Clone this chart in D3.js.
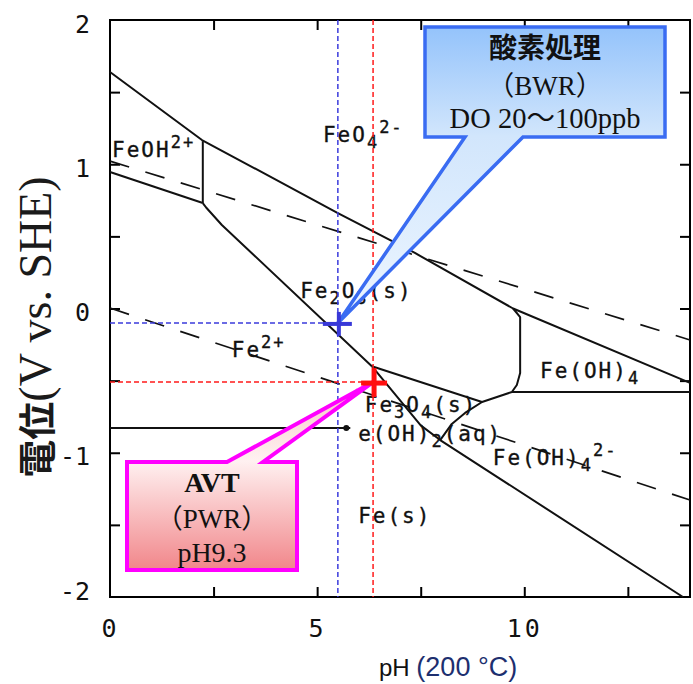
<!DOCTYPE html>
<meta charset='utf-8'>
<style>
  body { margin: 0; background: #fff; }
  .tick line { stroke: #000; stroke-width: 2; }
  .lbl text { font-family: 'DejaVu Sans Mono', monospace; font-size: 25px; fill: #111; }
</style>
<body>
<svg id="chart" width="693" height="684"></svg>
<script src="https://cdn.jsdelivr.net/npm/d3@7"></script>
<script>

// axis ticks and labels
var phLabels = [0, 5, 10];
var eLabels = [2, 1, 0, -1, -2];
var phTicks = [2.5, 5, 7.5, 10, 12.5];
var eTicks = [-1.5, -1, -0.5, 0, 0.5, 1, 1.5];

// solid phase boundaries, [pH, E(V)]
var lineFeO4 = [[0, 1.64], [2.22, 1.168], [5.5, 0.662], [7.36, 0.385], [9.73, 0.0], [14, -0.516]];
var lineFeOHLow = [[0, 0.946], [2.24, 0.731]];
var lineFeOHRight = [[2.24, 1.16], [2.24, 0.731]];
var lineFe2O3Left = [[2.24, 0.731], [2.32, 0.70], [2.70, 0.579], [6.32, -0.40]];
var lineFe2O3Low = [[6.32, -0.40], [8.98, -0.648], [9.70, -0.579]];
var lineFe2O3Right = [[9.73, 0.0], [9.90, -0.06], [9.90, -0.447], [9.82, -0.53], [9.70, -0.579]];
var lineFeOH4 = [[9.70, -0.579], [14, -0.579]];
var lineFe3O4Right = [[8.98, -0.648], [8.57, -0.724], [8.25, -0.80], [7.97, -0.912]];
var lineFeUpper = [[6.32, -0.40], [7.50, -0.81], [7.97, -0.912], [13.83, -2.0]];
var lineFe2plus = [[0, -0.828], [5.8, -0.828]];
var solidLines = [lineFeO4, lineFeOHLow, lineFeOHRight, lineFe2O3Left, lineFe2O3Low,
                  lineFe2O3Right, lineFeOH4, lineFe3O4Right, lineFeUpper, lineFe2plus];

// water stability lines (dashed)
var lineO2 = [[0, 1.022], [14, -0.218]];
var lineH2 = [[0, 0.003], [14, -1.328]];

// species labels: parts [text, 'n'|'sub'|'sup'], anchor [pH, E]
var species = [
  { parts: [['FeOH', 'n'], ['2+', 'sup']], at: [0.05, 1.05] },
  { parts: [['FeO', 'n'], ['4', 'sub'], ['2-', 'sup']], at: [5.14, 1.154] },
  { parts: [['Fe', 'n'], ['2', 'sub'], ['O', 'n'], ['3', 'sub'], ['(s)', 'n']], at: [4.59, 0.073] },
  { parts: [['Fe', 'n'], ['2+', 'sup']], at: [2.94, -0.336] },
  { parts: [['Fe', 'n'], ['3', 'sub'], ['O', 'n'], ['4', 'sub'], ['(s)', 'n']], at: [6.15, -0.715] },
  { parts: [['e(OH)', 'n'], ['2', 'sub'], ['(aq)', 'n']], at: [5.99, -0.92] },
  { parts: [['Fe(OH)', 'n'], ['4', 'sub']], at: [10.38, -0.482] },
  { parts: [['Fe(OH)', 'n'], ['4', 'sub'], ['2-', 'sup']], at: [9.24, -1.085] },
  { parts: [['Fe(s)', 'n']], at: [5.99, -1.487] }
];

// operating points
var bwrPoint = [5.5, -0.1];
var pwrPoint = [6.35, -0.51];

var bwrText = ['酸素処理', '（BWR）', 'DO 20～100ppb'];
var pwrText = ['AVT', '（PWR）', 'pH9.3'];

var svg = d3.select('#chart');

var x = d3.scaleLinear().domain([0, 14]).range([110, 690]);
var y = d3.scaleLinear().domain([-2, 2]).range([597, 20]);

var line = d3.line()
  .x(function(d){ return x(d[0]); })
  .y(function(d){ return y(d[1]); });

// inward ticks on all four sides
svg.append('g').attr('transform', 'translate(110,0)')
  .call(d3.axisLeft(y).tickValues(eTicks).tickSize(-10).tickFormat(''));
svg.append('g').attr('transform', 'translate(690,0)')
  .call(d3.axisRight(y).tickValues(eTicks).tickSize(-10).tickFormat(''));
svg.append('g').attr('transform', 'translate(0,597)')
  .call(d3.axisBottom(x).tickValues(phTicks).tickSize(-10).tickFormat(''));
svg.append('g').attr('transform', 'translate(0,20)')
  .call(d3.axisTop(x).tickValues(phTicks).tickSize(-10).tickFormat(''));
svg.selectAll('.domain').remove();

// tick labels
var yl = svg.append('g').attr('class', 'lbl').attr('transform', 'translate(110,0)')
  .call(d3.axisLeft(y).tickValues(eLabels).tickSize(0).tickPadding(20)
    .tickFormat(function(d){ return String(d); }));
yl.selectAll('text').attr('dy', function(d){ return d === -2 ? '0.1em' : '0.48em'; });
var xl = svg.append('g').attr('class', 'lbl').attr('transform', 'translate(0,597)')
  .call(d3.axisBottom(x).tickValues(phLabels).tickSize(0).tickPadding(22)
    .tickFormat(function(d){ return String(d); }));
xl.selectAll('text').attr('letter-spacing', 3);
svg.selectAll('.lbl .domain').remove();

// frame
svg.append('rect')
  .attr('x', x(0)).attr('y', y(2))
  .attr('width', x(14) - x(0)).attr('height', y(-2) - y(2))
  .attr('fill', 'none').attr('stroke', '#000').attr('stroke-width', 2);

// boundaries
svg.selectAll('.bound').data(solidLines).enter().append('path')
  .attr('class', 'bound')
  .attr('d', line)
  .attr('fill', 'none').attr('stroke', '#111').attr('stroke-width', 2)
  .attr('stroke-linejoin', 'round');

svg.selectAll('.water').data([lineO2, lineH2]).enter().append('path')
  .attr('class', 'water')
  .attr('d', line)
  .attr('fill', 'none').attr('stroke', '#111').attr('stroke-width', 1.7)
  .attr('stroke-dasharray', '20,17');

// junction dot at end of Fe2+/Fe line
svg.append('circle')
  .attr('cx', x(lineFe2plus[1][0]) - 4).attr('cy', y(lineFe2plus[1][1]))
  .attr('r', 3).attr('fill', '#111');

// species labels
species.forEach(function(s){
  var t = svg.append('text')
    .attr('x', x(s.at[0])).attr('y', y(s.at[1]))
    .attr('font-family', "'DejaVu Sans Mono', monospace")
    .attr('font-size', 21).attr('letter-spacing', 2).attr('fill', '#111')
    .attr('stroke', '#111').attr('stroke-width', 0.35);
  var off = 0;
  s.parts.forEach(function(p){
    var target = p[1] === 'sub' ? 6 : (p[1] === 'sup' ? -9 : 0);
    t.append('tspan')
      .attr('dy', target - off)
      .attr('font-size', p[1] === 'n' ? 21 : 17)
      .text(p[0]);
    off = target;
  });
});

// guide lines to the operating points
var guides = svg.append('g');
function guide(pt, col){
  guides.append('line')
    .attr('x1', x(pt[0])).attr('x2', x(pt[0]))
    .attr('y1', y(2)).attr('y2', y(-2))
    .attr('stroke', col).attr('stroke-width', 1.5).attr('stroke-dasharray', '5,3');
  guides.append('line')
    .attr('x1', x(0)).attr('x2', x(pt[0]))
    .attr('y1', y(pt[1])).attr('y2', y(pt[1]))
    .attr('stroke', col).attr('stroke-width', 1.5).attr('stroke-dasharray', '5,3');
}
guide(bwrPoint, '#3b3bdc');
guide(pwrPoint, '#ff1a1a');

// callouts
var defs = svg.append('defs');
var gb = defs.append('linearGradient').attr('id', 'gBlue')
  .attr('gradientUnits', 'userSpaceOnUse')
  .attr('x1', 0).attr('x2', 0).attr('y1', 27).attr('y2', y(bwrPoint[1]));
gb.append('stop').attr('offset', 0).attr('stop-color', '#94c3fb');
gb.append('stop').attr('offset', 0.37).attr('stop-color', '#d2e6fc');
gb.append('stop').attr('offset', 1).attr('stop-color', '#edf6ff');

var gp = defs.append('linearGradient').attr('id', 'gPink')
  .attr('gradientUnits', 'userSpaceOnUse')
  .attr('x1', 0).attr('x2', 0).attr('y1', y(pwrPoint[1])).attr('y2', 570);
gp.append('stop').attr('offset', 0).attr('stop-color', '#f6c4c4');
gp.append('stop').attr('offset', 0.42).attr('stop-color', '#fff1f1');
gp.append('stop').attr('offset', 1).attr('stop-color', '#f1868a');

var bx = x(bwrPoint[0]), by = y(bwrPoint[1]);
svg.append('path')
  .attr('d', 'M425,27 L665,27 L665,137 L523,137 L' + bx + ',' + by + ' L465,137 L425,137 Z')
  .attr('fill', 'url(#gBlue)').attr('stroke', '#3a6cf2').attr('stroke-width', 3.5)
  .attr('stroke-linejoin', 'miter');

var px = x(pwrPoint[0]), py = y(pwrPoint[1]);
svg.append('path')
  .attr('d', 'M127,462 L227,462 L' + px + ',' + py + ' L263,462 L297,462 L297,570 L127,570 Z')
  .attr('fill', 'url(#gPink)').attr('stroke', '#ff00ff').attr('stroke-width', 4)
  .attr('stroke-linejoin', 'miter');

var fam = "'Liberation Serif', 'Noto Sans CJK JP', serif";
svg.append('text').attr('x', 545).attr('y', 58).attr('text-anchor', 'middle')
  .attr('font-family', "'Noto Sans CJK JP', sans-serif").attr('font-weight', 'bold')
  .attr('font-size', 28).attr('fill', '#111').text(bwrText[0]);
svg.append('text').attr('x', 545).attr('y', 95).attr('text-anchor', 'middle')
  .attr('font-family', fam).attr('font-size', 27).attr('fill', '#111').text(bwrText[1]);
svg.append('text').attr('x', 545).attr('y', 128).attr('text-anchor', 'middle')
  .attr('font-family', fam).attr('font-size', 28.5).attr('fill', '#111').text(bwrText[2]);

svg.append('text').attr('x', 212).attr('y', 492).attr('text-anchor', 'middle')
  .attr('font-family', fam).attr('font-weight', 'bold')
  .attr('font-size', 28).attr('fill', '#111').text(pwrText[0]);
svg.append('text').attr('x', 212).attr('y', 528).attr('text-anchor', 'middle')
  .attr('font-family', fam).attr('font-size', 27).attr('fill', '#111').text(pwrText[1]);
svg.append('text').attr('x', 212).attr('y', 562).attr('text-anchor', 'middle')
  .attr('font-family', fam).attr('font-size', 28).attr('fill', '#111').text(pwrText[2]);

// crosses
function cross(cx, cy, col, w, l, r, u, d){
  svg.append('line').attr('x1', cx - l).attr('x2', cx + r).attr('y1', cy).attr('y2', cy)
    .attr('stroke', col).attr('stroke-width', w);
  svg.append('line').attr('x1', cx).attr('x2', cx).attr('y1', cy - u).attr('y2', cy + d)
    .attr('stroke', col).attr('stroke-width', w);
}
cross(bx + 1, by + 1, '#3838d8', 4, 16, 13, 12, 12);
cross(px + 1, py + 1, '#ff1010', 5, 13, 13, 15, 14);

// axis titles
var yt = svg.append('text')
  .attr('transform', 'translate(51,327) rotate(-90)')
  .attr('text-anchor', 'middle').attr('fill', '#1a1a1a');
yt.append('tspan').attr('font-family', "'Noto Sans CJK JP', sans-serif")
  .attr('font-size', 38).attr('font-weight', 700).text('電位');
yt.append('tspan').attr('font-family', "'Liberation Serif', serif")
  .attr('font-size', 46).text('(V vs. SHE)');

var xt = svg.append('text').attr('x', 379).attr('y', 676);
xt.append('tspan').attr('font-family', "'Liberation Sans', sans-serif")
  .attr('font-size', 24).attr('fill', '#111').text('pH ');
xt.append('tspan').attr('font-family', "'Liberation Sans', sans-serif")
  .attr('font-size', 27).attr('fill', '#1d2f6f').text('(200 °C)');

</script>
</body>
